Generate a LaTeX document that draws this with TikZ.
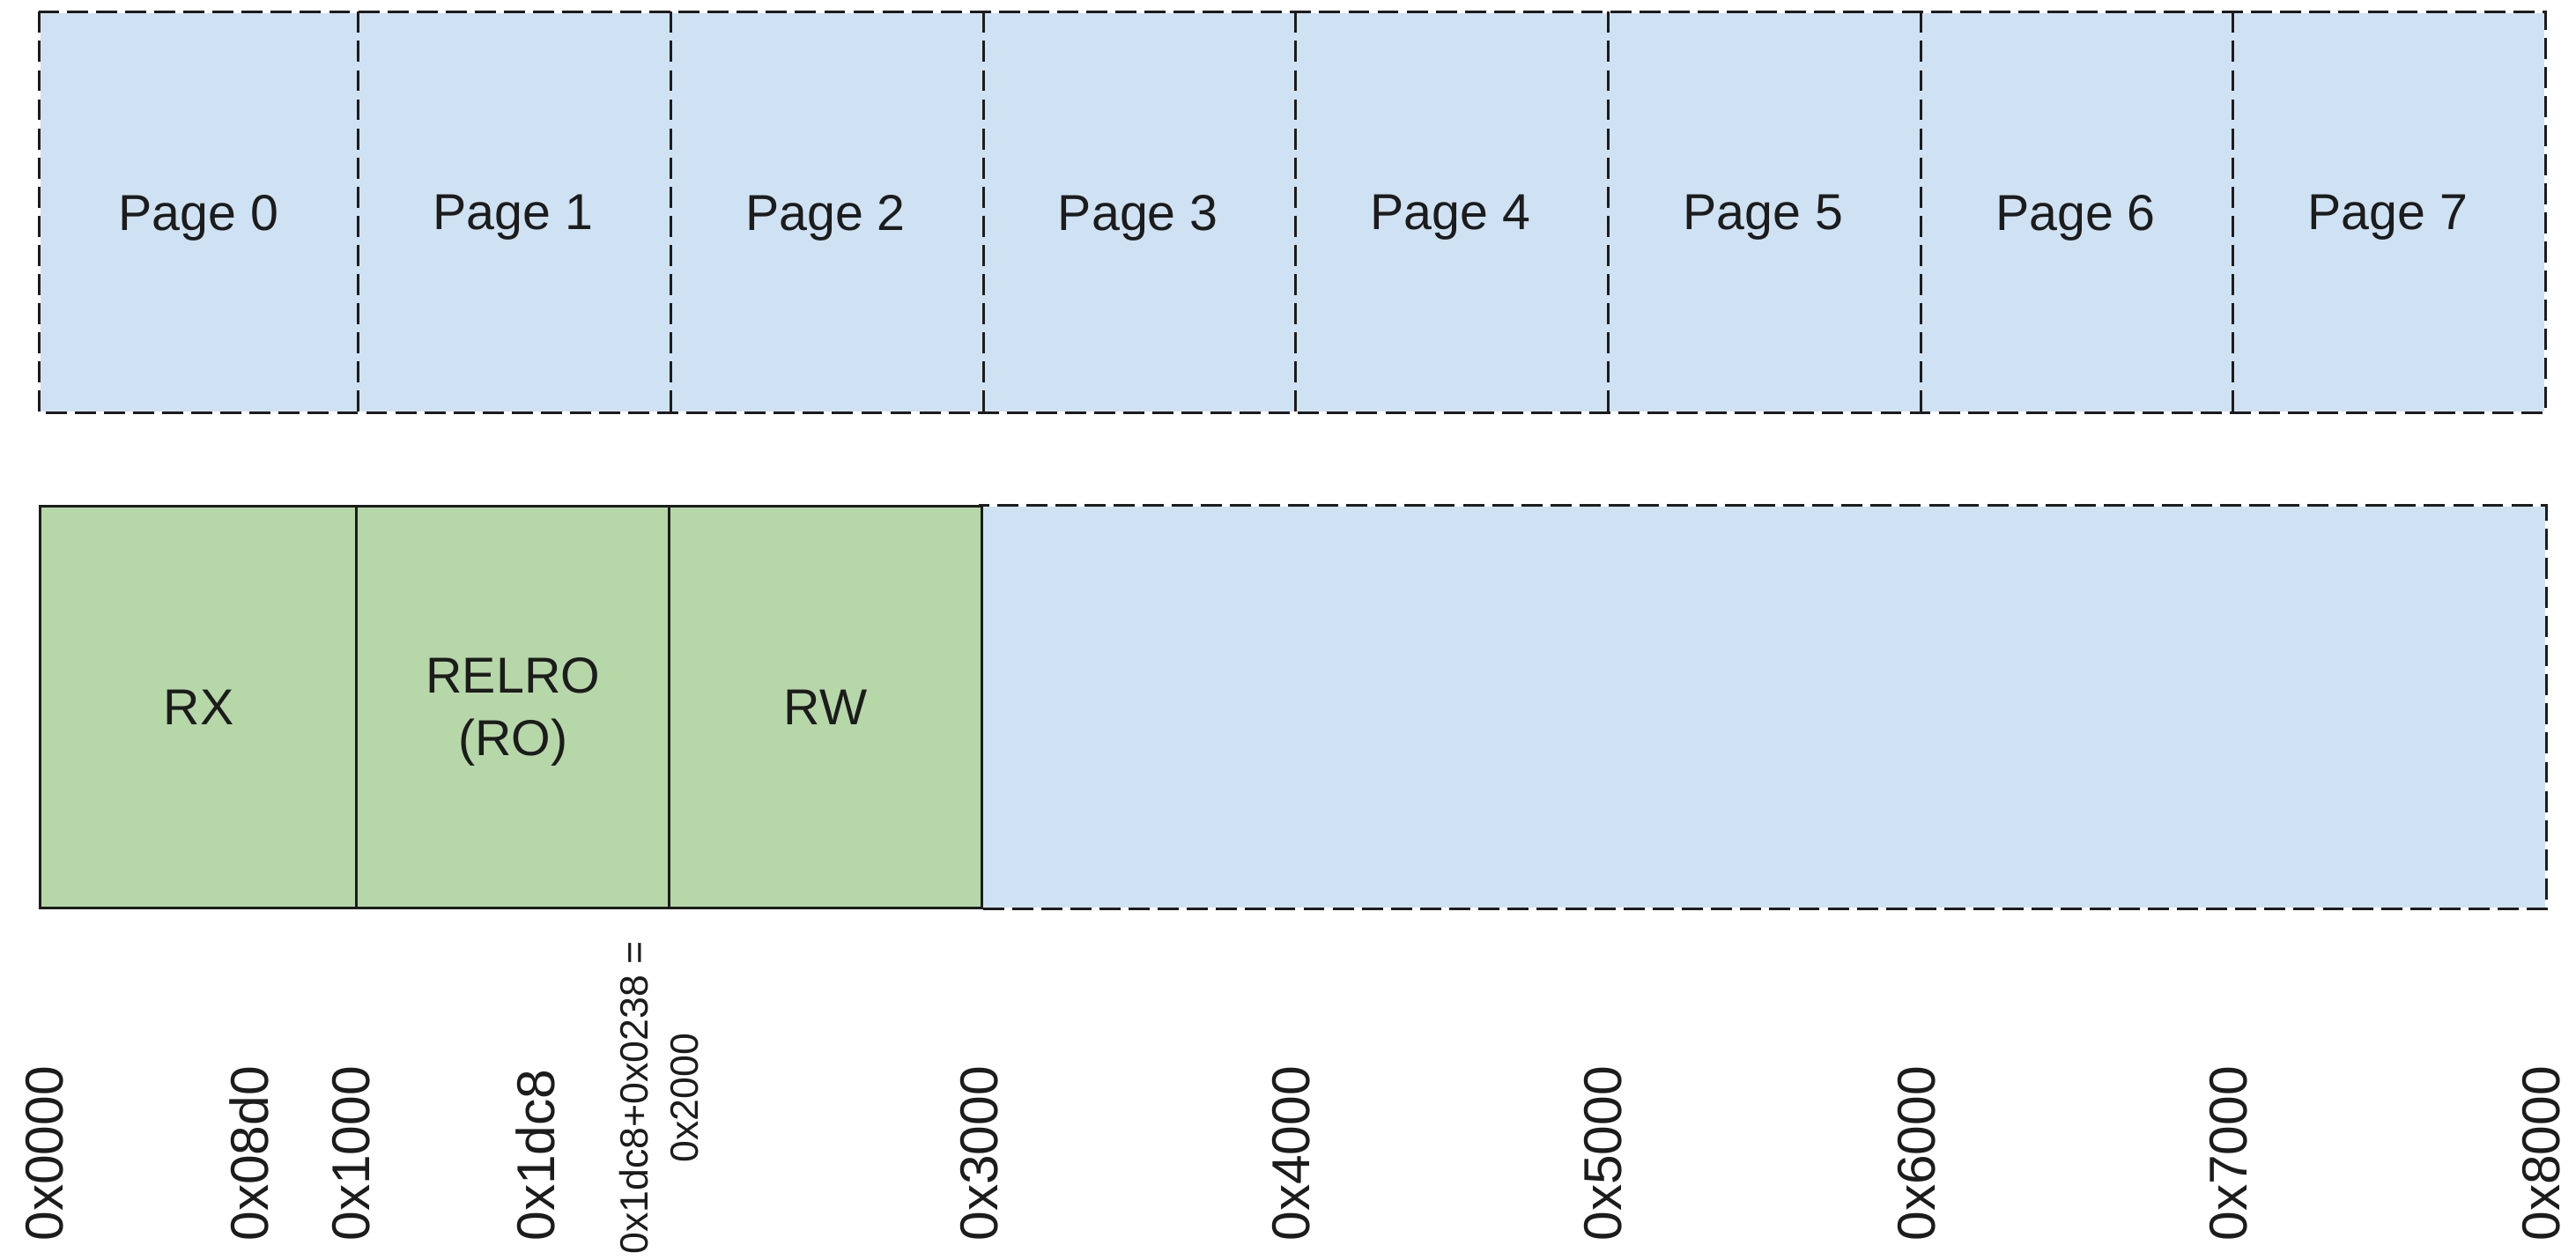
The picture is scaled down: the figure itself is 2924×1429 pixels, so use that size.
\documentclass[tikz,border=0pt]{standalone}
\usepackage{fontspec}
\setmainfont{Liberation Sans}
\definecolor{pageblue}{HTML}{CFE2F3}
\definecolor{seggreen}{HTML}{B6D7A8}
\definecolor{ink}{HTML}{1C1C1C}
\begin{document}
\begin{tikzpicture}[x=0.01cm, y=-0.01cm,
  line width=0.85pt,
  dashline/.style={draw=ink, dash pattern=on 6.8pt off 2.6pt},
  pagebox/.style={fill=pageblue, inner sep=0pt, minimum height=4.52cm,
    text depth=0pt, text=ink, font=\fontsize{16.3}{20}\selectfont},
  segbox/.style={fill=seggreen, draw=ink, inner sep=0pt, minimum height=4.55cm,
    text=ink, align=center, font=\fontsize{16.3}{20}\selectfont},
  freebox/.style={fill=pageblue, inner sep=0pt, minimum height=4.55cm},
  addr/.style={rotate=90, anchor=west, inner sep=0pt, text=ink,
    font=\fontsize{17.2}{20}\selectfont}]
\useasboundingbox (0,0) rectangle (2924,1429);

% virtual pages
\node[pagebox, minimum width=3.59cm] (p0) at (225.5,241) {Page 0};
\foreach \i in {1,...,7}
  \node[pagebox, minimum width=3.547cm] (p\i) at ({405+(\i-0.5)*354.7},241) {Page \i};
\draw[dashline] (p0.north west) rectangle (p7.south east);
\foreach \i in {0,...,6}
  \draw[dashline] (p\i.north east) -- (p\i.south east);

% mapped segments
\node[freebox, minimum width=17.746cm] (free) at (2000.7,802.5) {};
\draw[dashline] (free.north west) rectangle (free.south east);
\node[segbox, minimum width=3.59cm] (rx) at (225.5,802.5) {RX};
\node[segbox, minimum width=3.547cm] (relro) at (582.35,802.5) {};
\node[text=ink, align=center, inner sep=0pt, font=\fontsize{16.3}{20}\selectfont]
  (relrotext) at (582.35,808) {RELRO\\(RO)};
\node[segbox, minimum width=3.547cm] (rw) at (937.05,802.5) {RW};

% addresses
\node[addr] (a0000) at (51,1410) {0x0000};
\node[addr] (a08d0) at (283,1410) {0x08d0};
\node[addr] (a1000) at (399,1410) {0x1000};
\node[addr] (a1dc8) at (608,1410) {0x1dc8};
\node[rotate=90, align=center, inner sep=0pt, text=ink,
  font=\fontsize{12.7}{16.2}\selectfont] (a2000) at (748,1246)
  {0x1dc8+0x0238 =\\0x2000};
\node[addr] (a3000) at (1112,1410) {0x3000};
\node[addr] (a4000) at (1466,1410) {0x4000};
\node[addr] (a5000) at (1820,1410) {0x5000};
\node[addr] (a6000) at (2176,1410) {0x6000};
\node[addr] (a7000) at (2530,1410) {0x7000};
\node[addr] (a8000) at (2885,1410) {0x8000};
\end{tikzpicture}
\end{document}
